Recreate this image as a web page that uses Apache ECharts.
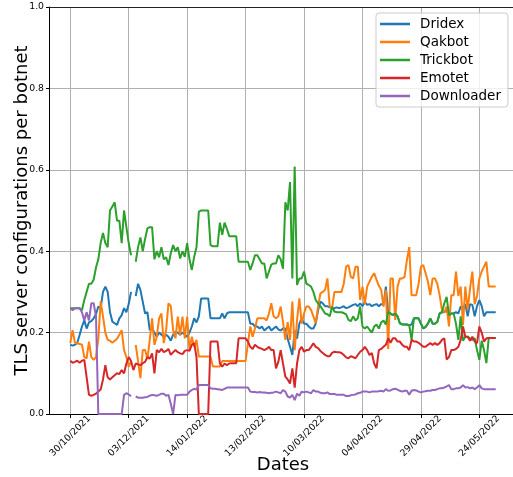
<!DOCTYPE html>
<html>
<head>
<meta charset="utf-8">
<script src="https://cdn.jsdelivr.net/npm/echarts@6/dist/echarts.min.js"></script>
<style>
  html, body { margin: 0; padding: 0; background: #fff; }
  #chart { width: 513px; height: 477px; }
</style>
</head>
<body>
<div id="chart"></div>
<script>
// Dates shown under the x axis (one label every 25 observations)
const tickLabels = ['30/10/2021', '03/12/2021', '14/01/2022', '13/02/2022',
                    '10/03/2022', '04/04/2022', '29/04/2022', '24/05/2022'];
const tickStep = 25;

const seriesNames = ['Dridex', 'Qakbot', 'Trickbot', 'Emotet', 'Downloader'];

// Share of TLS server configurations per botnet, one value per observation
const dridex = [
  0.17, 0.168, 0.17, 0.175, 0.194, 0.215, 0.23, 0.21, 0.225, 0.228,
  0.235, 0.245, 0.264, 0.26, 0.30, 0.313, 0.30, 0.25, 0.227, 0.223,
  0.219, 0.235, 0.243, 0.26, 0.25, 0.27, 0.30, null, 0.29, 0.32,
  0.305, 0.276, 0.247, 0.25, 0.206, 0.21, 0.2, 0.19, 0.2, 0.195,
  0.19, 0.195, 0.19, 0.18, 0.195, 0.202, 0.2, 0.195, 0.2, 0.195,
  0.19, 0.2, 0.215, 0.235, 0.225, 0.24, 0.284, 0.284, 0.284, 0.284,
  0.235, 0.235, 0.235, 0.235, 0.235, 0.247, 0.235, 0.247, 0.25, 0.25,
  0.25, 0.25, 0.25, 0.25, 0.25, 0.25, 0.25, 0.222, 0.222, 0.215,
  0.215, 0.21, 0.215, 0.205, 0.21, 0.215, 0.205, 0.21, 0.215, 0.208,
  0.205, 0.21, 0.21, 0.185, 0.165, 0.145, 0.205, 0.185, 0.222, 0.235,
  0.222, 0.222, 0.215, 0.21, 0.21, 0.222, 0.255, 0.276, 0.272, 0.265,
  0.265, 0.262, 0.26, 0.26, 0.262, 0.26, 0.262, 0.265, 0.26, 0.262,
  0.265, 0.268, 0.27, 0.265, 0.272, 0.265, 0.275, 0.268, 0.27, 0.265,
  0.268, 0.27, 0.265, 0.27, 0.268, 0.313, 0.251, 0.247, 0.243, 0.247,
  0.24, 0.223, 0.22, 0.22, 0.22, 0.218, 0.22, 0.235, 0.235, 0.235,
  0.222, 0.21, 0.214, 0.222, 0.235, 0.222, 0.222, 0.226, 0.247, 0.25,
  0.25, 0.255, 0.243, 0.247, 0.247, 0.25, 0.247, 0.264, 0.26, 0.27,
  0.24, 0.27, 0.268, 0.24, 0.265, 0.28, 0.265, 0.24, 0.25, 0.25,
  0.25, 0.25, 0.25
];
const qakbot = [
  0.174, 0.206, 0.175, 0.174, 0.172, 0.17, 0.14, 0.137, 0.178, 0.14,
  0.133, 0.14, 0.185, 0.276, 0.24, 0.2, 0.182, 0.18, 0.175, 0.18,
  0.185, 0.195, 0.206, 0.157, 0.14, 0.116, 0.13, null, 0.17, 0.13,
  0.088, 0.157, 0.157, 0.135, 0.182, 0.235, 0.17, 0.19, 0.235, 0.247,
  0.174, 0.206, 0.272, 0.265, 0.206, 0.186, 0.239, 0.194, 0.239, 0.186,
  0.239, 0.157, 0.19, 0.165, 0.182, 0.141, 0.141, 0.141, 0.141, 0.141,
  0.141, 0.117, 0.117, 0.117, 0.117, 0.13, 0.13, 0.13, 0.13, 0.13,
  0.13, 0.13, 0.13, 0.13, 0.13, 0.13, 0.174, 0.215, 0.19, 0.21,
  0.235, 0.235, 0.235, 0.235, 0.23, 0.247, 0.272, 0.24, 0.235, 0.24,
  0.264, 0.226, 0.182, 0.226, 0.182, 0.276, 0.157, 0.23, 0.284, 0.222,
  0.247, 0.264, 0.264, 0.256, 0.24, 0.223, 0.264, 0.296, 0.30, 0.305,
  0.333, 0.264, 0.26, 0.30, 0.30, 0.30, 0.30, 0.32, 0.362, 0.366,
  0.337, 0.333, 0.362, 0.362, 0.28, 0.313, 0.27, 0.313, 0.325, 0.337,
  0.346, 0.33, 0.315, 0.305, 0.264, 0.305, 0.16, 0.333, 0.333, 0.231,
  0.313, 0.333, 0.333, 0.337, 0.378, 0.41, 0.292, 0.292, 0.292, 0.32,
  0.362, 0.366, 0.346, 0.325, 0.292, 0.333, 0.333, 0.32, 0.292, 0.255,
  0.25, 0.264, 0.215, 0.292, 0.292, 0.35, 0.29, 0.313, 0.219, 0.313,
  0.255, 0.308, 0.35, 0.27, 0.29, 0.333, 0.35, 0.362, 0.374, 0.313,
  0.313, 0.313, 0.313
];
const trickbot = [
  0.26, 0.26, 0.26, 0.26, 0.26, 0.255, 0.28, 0.30, 0.32, 0.32,
  0.33, 0.36, 0.38, 0.42, 0.445, 0.42, 0.41, 0.50, 0.51, 0.52,
  0.475, 0.475, 0.42, 0.50, 0.46, 0.42, 0.39, null, 0.374, 0.41,
  0.434, 0.40, 0.43, 0.456, 0.459, 0.459, 0.38, 0.40, 0.385, 0.41,
  0.38, 0.385, 0.366, 0.395, 0.415, 0.40, 0.41, 0.382, 0.40, 0.386,
  0.42, 0.38, 0.354, 0.386, 0.41, 0.497, 0.50, 0.50, 0.50, 0.50,
  0.415, 0.412, 0.412, 0.412, 0.47, 0.44, 0.47, 0.455, 0.437, 0.437,
  0.437, 0.437, 0.374, 0.374, 0.374, 0.374, 0.374, 0.354, 0.37, 0.39,
  0.39, 0.38, 0.37, 0.37, 0.333, 0.35, 0.367, 0.37, 0.37, 0.39,
  0.38, 0.357, 0.52, 0.50, 0.57, 0.333, 0.608, 0.317, 0.333, 0.333,
  0.35, 0.32, 0.317, 0.313, 0.30, 0.28, 0.272, 0.265, 0.256, 0.247,
  0.245, 0.24, 0.263, 0.252, 0.25, 0.25, 0.25, 0.248, 0.245, 0.231,
  0.228, 0.24, 0.23, 0.235, 0.264, 0.215, 0.21, 0.215, 0.207, 0.2,
  0.215, 0.22, 0.21, 0.225, 0.23, 0.22, 0.251, 0.247, 0.243, 0.247,
  0.24, 0.223, 0.22, 0.22, 0.22, 0.218, 0.182, 0.235, 0.235, 0.235,
  0.222, 0.21, 0.214, 0.222, 0.235, 0.222, 0.222, 0.226, 0.247, 0.25,
  0.272, 0.288, 0.243, 0.247, 0.247, 0.222, 0.182, 0.24, 0.18, 0.19,
  0.19, 0.186, 0.182, 0.186, 0.157, 0.133, 0.18, 0.157, 0.125, 0.186,
  0.187, 0.187, 0.187
];
const emotet = [
  0.131, 0.126, 0.128, 0.131, 0.126, 0.131, 0.133, 0.09, 0.047, 0.045,
  0.047, 0.05, 0.055, 0.06, 0.085, 0.12, 0.09, 0.085, 0.09, 0.095,
  0.1, 0.098, 0.108, 0.1, 0.124, 0.14, 0.13, 0.108, 0.124, 0.122,
  0.12, 0.125, 0.128, 0.14, 0.136, 0.149, 0.1, 0.157, 0.152, 0.16,
  0.152, 0.155, 0.16, 0.145, 0.152, 0.157, 0.152, 0.149, 0.147, 0.155,
  0.157, 0.155, 0.17, 0.174, 0.14, 0, 0, 0, 0, 0,
  0.178, 0.178, 0.178, 0.178, 0.124, 0.116, 0.124, 0.12, 0.124, 0.125,
  0.125, 0.125, 0.186, 0.186, 0.186, 0.186, 0.178, 0.165, 0.16, 0.17,
  0.165, 0.162, 0.16, 0.157, 0.16, 0.165, 0.157, 0.157, 0.112, 0.128,
  0.157, 0.124, 0.092, 0.085, 0.075, 0.112, 0.065, 0.124, 0.157, 0.165,
  0.153, 0.157, 0.157, 0.165, 0.174, 0.165, 0.162, 0.155, 0.15, 0.145,
  0.142, 0.142, 0.15, 0.153, 0.152, 0.152, 0.15, 0.145, 0.139, 0.137,
  0.142, 0.14, 0.137, 0.145, 0.153, 0.157, 0.165, 0.157, 0.145, 0.15,
  0.124, 0.112, 0.157, 0.16, 0.165, 0.17, 0.186, 0.175, 0.186, 0.186,
  0.178, 0.178, 0.17, 0.165, 0.165, 0.157, 0.182, 0.178, 0.178, 0.175,
  0.17, 0.165, 0.165, 0.17, 0.174, 0.17, 0.174, 0.17, 0.174, 0.182,
  0.186, 0.134, 0.14, 0.157, 0.157, 0.16, 0.165, 0.182, 0.215, 0.19,
  0.19, 0.18, 0.19, 0.178, 0.174, 0.215, 0.2, 0.178, 0.186, 0.187,
  0.187, 0.187, 0.187
];
const downloader = [
  0.26, 0.255, 0.26, 0.26, 0.26, 0.25, 0.23, 0.25, 0.23, 0.272,
  0.272, 0.24, 0, 0, 0, 0, 0, 0, 0, 0,
  0, 0, 0, 0.047, 0.051, 0.048, 0.044, null, 0.043, 0.04,
  0.04, 0.04, 0.041, 0.042, 0.045, 0.047, 0.046, 0.045, 0.047, 0.05,
  0.05, 0.045, 0.047, 0.025, 0, 0.047, 0.046, 0.047, 0.047, 0.047,
  0.047, 0.055, 0.059, 0.062, 0.06, 0.071, 0.071, 0.071, 0.071, 0.071,
  0.063, 0.062, 0.062, 0.061, 0.06, 0.059, 0.062, 0.065, 0.065, 0.065,
  0.065, 0.065, 0.065, 0.065, 0.065, 0.065, 0.065, 0.055, 0.054, 0.054,
  0.053, 0.054, 0.053, 0.053, 0.052, 0.051, 0.052, 0.053, 0.055, 0.053,
  0.051, 0.059, 0.055, 0.043, 0.04, 0.047, 0.034, 0.05, 0.045, 0.055,
  0.053, 0.055, 0.053, 0.051, 0.059, 0.055, 0.055, 0.052, 0.051, 0.051,
  0.053, 0.049, 0.049, 0.049, 0.047, 0.047, 0.047, 0.047, 0.044, 0.044,
  0.046, 0.047, 0.048, 0.051, 0.052, 0.055, 0.055, 0.055, 0.053, 0.055,
  0.055, 0.055, 0.056, 0.057, 0.055, 0.061, 0.057, 0.058, 0.061, 0.062,
  0.06, 0.057, 0.055, 0.057, 0.057, 0.047, 0.057, 0.059, 0.058, 0.055,
  0.053, 0.055, 0.056, 0.057, 0.057, 0.059, 0.059, 0.061, 0.063, 0.063,
  0.065, 0.068, 0.071, 0.061, 0.061, 0.063, 0.063, 0.065, 0.071, 0.065,
  0.066, 0.063, 0.065, 0.061, 0.065, 0.071, 0.063, 0.061, 0.061, 0.061,
  0.061, 0.061, 0.061
];

const seriesValues = [dridex, qakbot, trickbot, emotet, downloader];
const seriesColors = ['#1f77b4', '#ff7f0e', '#2ca02c', '#d62728', '#9467bd'];

const font = 'DejaVu Sans';
const count = dridex.length;
const margin = (count - 1) * 0.05;          // 5% breathing room on both ends
const tickValues = tickLabels.map((_, k) => k * tickStep);

const chart = echarts.init(document.getElementById('chart'), null, { renderer: 'canvas' });

chart.setOption({
  animation: false,
  backgroundColor: '#ffffff',
  grid: {
    left: 49, top: 7, width: 468, height: 407,
    outerBoundsMode: 'none',
    containLabel: false,
    show: false
  },
  legend: {
    orient: 'vertical',
    left: 376, top: 13,
    padding: [2, 7, 2, 4],
    itemGap: 0,
    itemWidth: 30,
    itemHeight: 2.5,
    icon: 'rect',
    backgroundColor: 'rgba(255,255,255,0.8)',
    borderColor: '#cccccc',
    borderWidth: 1,
    borderRadius: 3,
    textStyle: { fontFamily: font, fontSize: 13.5, color: '#000', lineHeight: 18, padding: [0, 0, 0, 5] },
    data: seriesNames
  },
  xAxis: [{
    type: 'value',
    min: -margin,
    max: count - 1 + margin,
    name: 'Dates',
    nameLocation: 'middle',
    nameGap: 42,
    nameMoveOverlap: false,
    nameTextStyle: { fontFamily: font, fontSize: 18, color: '#000' },
    axisLine: { show: true, onZero: false, lineStyle: { color: '#000', width: 1 } },
    axisTick: { show: true, length: 4, customValues: tickValues, lineStyle: { color: '#000' } },
    axisLabel: {
      customValues: tickValues,
      formatter: v => tickLabels[Math.round(v / tickStep)],
      rotate: 45, align: 'center', verticalAlign: 'middle', margin: 22,
      fontFamily: font, fontSize: 9.3, color: '#000'
    },
    splitLine: { show: true, lineStyle: { color: '#b0b0b0', width: 1 } }
  }, {
    // top frame edge
    type: 'value',
    position: 'top',
    min: -margin,
    max: count - 1 + margin,
    axisLine: { show: true, onZero: false, lineStyle: { color: '#222', width: 1 } },
    axisTick: { show: false },
    axisLabel: { show: false },
    splitLine: { show: false }
  }],
  yAxis: {
    type: 'value',
    min: 0, max: 1, interval: 0.2,
    name: 'TLS server configurations per botnet',
    nameLocation: 'middle',
    nameGap: 18,
    nameMoveOverlap: false,
    nameRotate: 90,
    nameTextStyle: { fontFamily: font, fontSize: 18, color: '#000' },
    axisLine: { show: true, onZero: false, lineStyle: { color: '#000', width: 1 } },
    axisTick: { show: true, length: 3, lineStyle: { color: '#000' } },
    axisLabel: {
      formatter: v => v.toFixed(1),
      margin: 5,
      fontFamily: font, fontSize: 9.3, color: '#000'
    },
    splitLine: { show: true, lineStyle: { color: '#b0b0b0', width: 1 } }
  },
  series: seriesNames.map((name, s) => ({
    name,
    type: 'line',
    xAxisIndex: 0,
    data: seriesValues[s].map((v, i) => [i, v]),
    showSymbol: false,
    symbol: 'none',
    connectNulls: false,
    lineStyle: { color: seriesColors[s], width: 2 },
    itemStyle: { color: seriesColors[s] }
  }))
});
</script>
</body>
</html>
